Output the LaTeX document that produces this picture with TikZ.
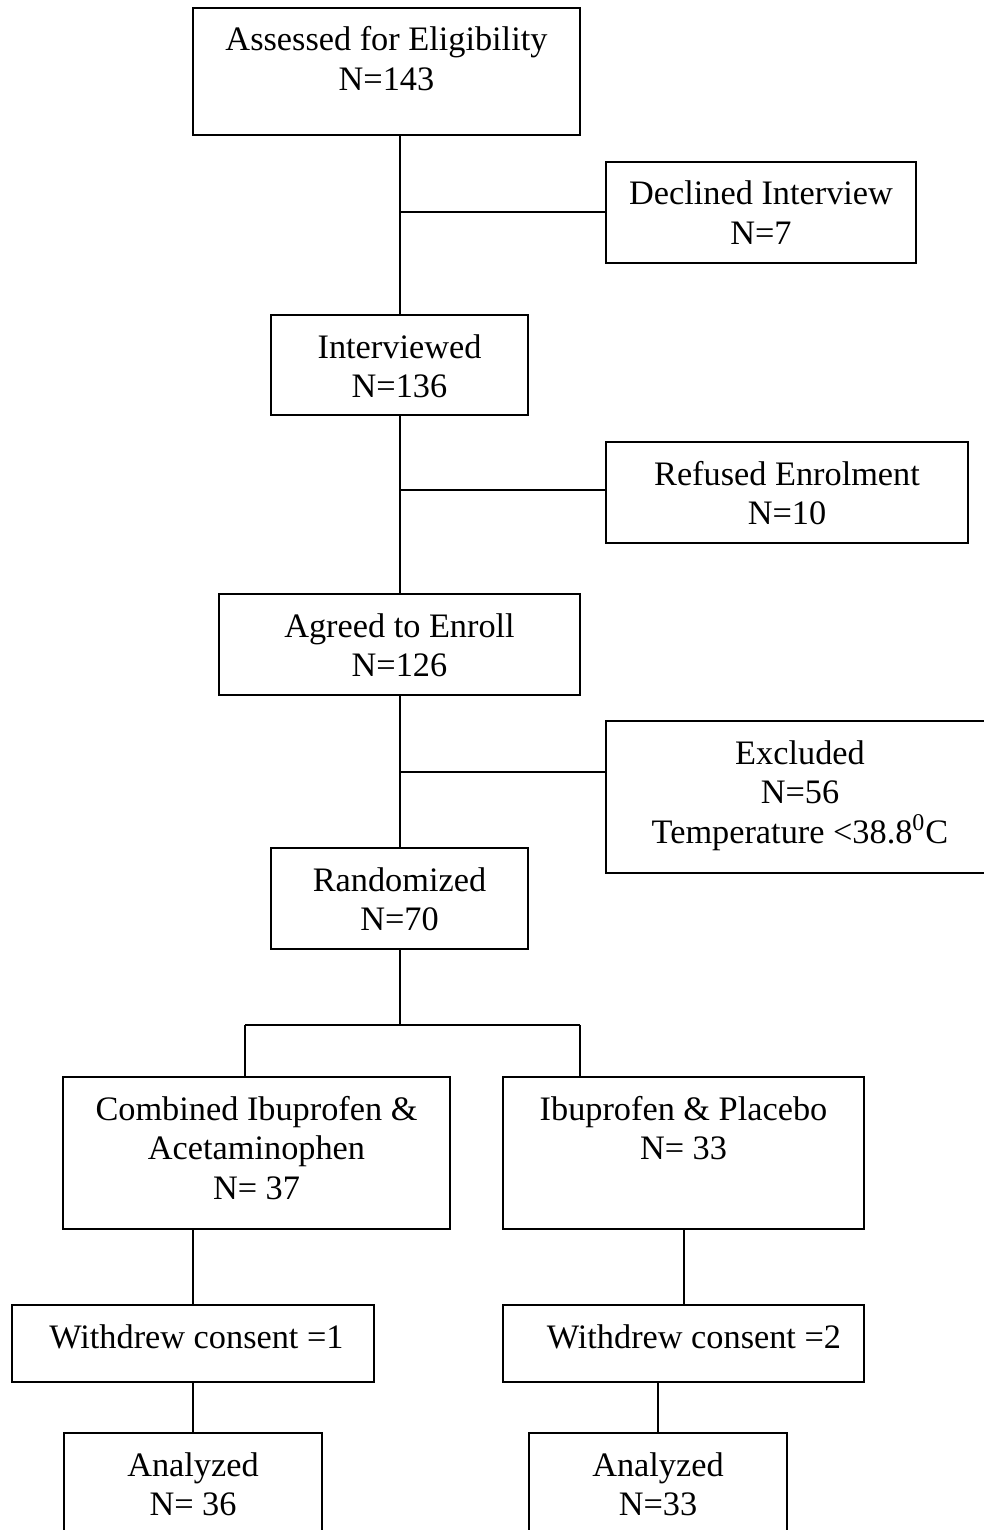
\documentclass[tikz,border=0pt]{standalone}
\usepackage{fontspec}
\setmainfont{Liberation Serif}
\newcommand\boxtxt[3]{\parbox[t][#2][t]{#1}{\centering\rule{0pt}{21.5pt}#3}}
\begin{document}
\begin{tikzpicture}[x=0.5pt,y=-0.5pt,
  box/.style={draw, line width=1pt, inner sep=0pt, outer sep=0pt, rectangle},
  conn/.style={line width=1pt},
  every node/.append style={font=\fontsize{17.15pt}{19.75pt}\selectfont}]
\useasboundingbox (0,0) rectangle (984,1530);
\clip (0,0) rectangle (984,1530);
\fill[white] (0,0) rectangle (984,1530);

\node[box] (a) at (386.5,71.5) {\boxtxt{193.5pt}{63.5pt}{Assessed for Eligibility\\N=143}};
\node[box] (b) at (761,212.5) {\boxtxt{155pt}{50.5pt}{Declined Interview\\N=7}};
\node[box] (c) at (399.5,365) {\boxtxt{128.5pt}{50pt}{Interviewed\\N=136}};
\node[box] (d) at (787,492.5) {\boxtxt{181pt}{50.5pt}{Refused Enrolment\\N=10}};
\node[box] (e) at (399.5,644.5) {\boxtxt{180.5pt}{50.5pt}{Agreed to Enroll\\N=126}};
\node[box] (f) at (800,797) {\boxtxt{194pt}{76pt}{Excluded\\N=56\\Temperature <38.8\textsuperscript{0}C}};
\node[box] (g) at (399.5,898.5) {\boxtxt{128.5pt}{50.5pt}{Randomized\\N=70}};
\node[box] (h) at (256.5,1153) {\boxtxt{193.5pt}{76pt}{Combined Ibuprofen \&\\Acetaminophen\\N= 37}};
\node[box] (i) at (683.5,1153) {\boxtxt{180.5pt}{76pt}{Ibuprofen \& Placebo\\N= 33}};
\node[box] (j) at (193,1343.5) {\boxtxt{181pt}{38.5pt}{\hspace*{3.5pt}Withdrew consent =1}};
\node[box] (k) at (683.5,1343.5) {\boxtxt{180.5pt}{38.5pt}{\hspace*{10.5pt}Withdrew consent =2}};
\node[box] (l) at (193,1489) {\boxtxt{129pt}{56pt}{Analyzed\\N= 36}};
\node[box] (m) at (658,1489) {\boxtxt{129pt}{56pt}{Analyzed\\N=33}};

\coordinate (sp) at (400,0);
\draw[conn] (a.south -| sp) -- (c.north -| sp);
\draw[conn] (c.south -| sp) -- (e.north -| sp);
\draw[conn] (e.south -| sp) -- (g.north -| sp);
\draw[conn] (b.west) -- (b.west -| sp);
\coordinate (dw) at ([yshift=1.25pt]d.west);
\draw[conn] (dw) -- (dw -| sp);
\coordinate (fw) at ([yshift=12.5pt]f.west);
\draw[conn] (fw) -- (fw -| sp);
\coordinate (sl) at (245,1025);
\coordinate (sr) at (580,1025);
\draw[conn] (g.south -| sp) -- (sp |- sl);
\draw[conn] (sl) -- (sr);
\draw[conn] (sl) -- (sl |- h.north);
\draw[conn] (sr) -- (sr |- i.north);
\coordinate (lx) at (193,0);
\draw[conn] (h.south -| lx) -- (j.north);
\draw[conn] (j.south) -- (l.north);
\draw[conn] (i.south) -- (k.north);
\draw[conn] (k.south -| m.north) -- (m.north);
\end{tikzpicture}
\end{document}
